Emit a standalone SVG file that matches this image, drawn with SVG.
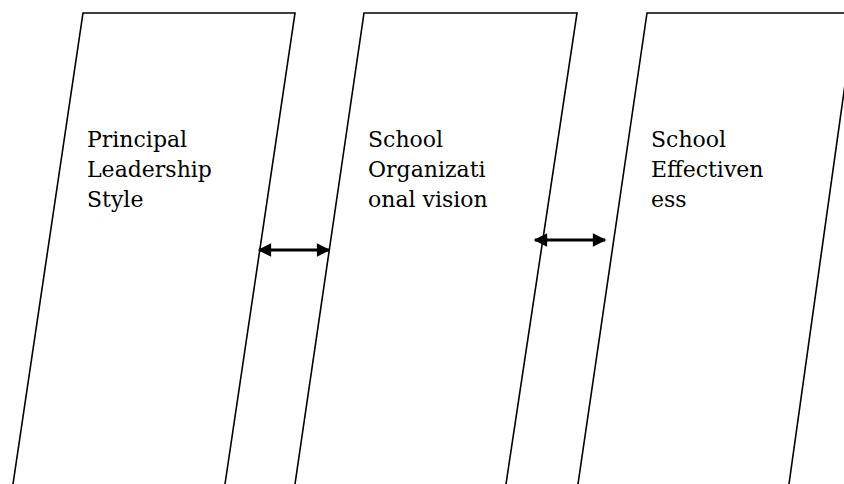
<svg xmlns="http://www.w3.org/2000/svg" width="844" height="484" viewBox="0 0 844 484">
<style>
.box{fill:none;stroke:#000;stroke-width:1.6}
.lbl{font-family:"DejaVu Serif","Liberation Serif",serif;font-size:22px;fill:#000}
.arr{stroke:#000;stroke-width:3;fill:none}
</style>
<defs>
<marker id="ah" viewBox="0 0 10 10" refX="9" refY="5" markerWidth="5" markerHeight="4.5" orient="auto-start-reverse" markerUnits="strokeWidth">
<path d="M0,0 L10,5 L0,10 Z" fill="#000"/>
</marker>
</defs>
<rect width="844" height="484" fill="#fff"/>
<g id="node-principal">
<path class="box" d="M13,484 L83,13 L295,13 L225,484"/>
<text class="lbl" x="87" y="147">Principal</text>
<text class="lbl" x="87" y="177">Leadership</text>
<text class="lbl" x="87" y="207">Style</text>
</g>
<g id="node-vision">
<path class="box" d="M295,484 L364,13 L577,13 L506,484"/>
<text class="lbl" x="368" y="147">School</text>
<text class="lbl" x="368" y="177">Organizati</text>
<text class="lbl" x="368" y="207">onal vision</text>
</g>
<g id="node-effectiveness">
<path class="box" d="M578,484 L647,13 L844,13"/>
<path class="box" d="M855,13 L789,484"/>
<text class="lbl" x="651" y="147">School</text>
<text class="lbl" x="651" y="177">Effectiven</text>
<text class="lbl" x="651" y="207">ess</text>
</g>
<g id="connectors">
<line class="arr" x1="259" y1="250" x2="329" y2="250" marker-start="url(#ah)" marker-end="url(#ah)"/>
<line class="arr" x1="535" y1="240" x2="605" y2="240" marker-start="url(#ah)" marker-end="url(#ah)"/>
</g>
</svg>
